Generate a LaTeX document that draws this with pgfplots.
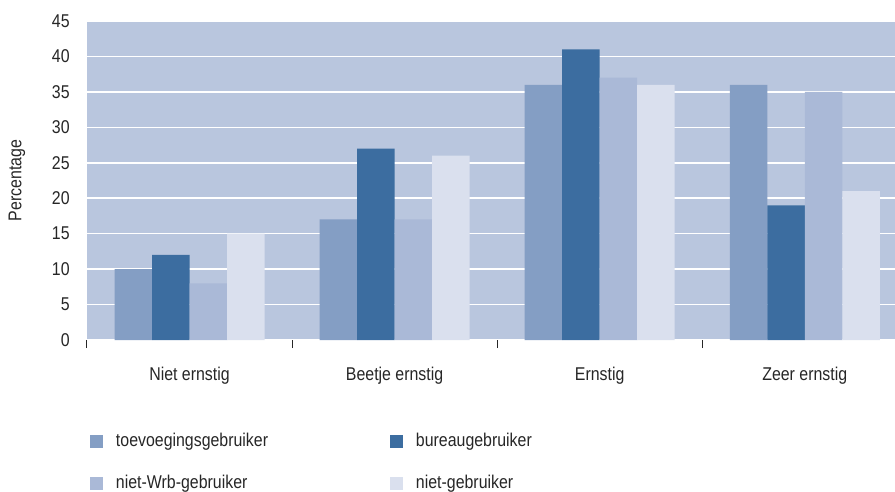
\documentclass[border=0pt]{standalone}
\usepackage{fontspec}
\setmainfont{Liberation Sans}[FakeStretch=0.86]
\usepackage{pgfplots}
\pgfplotsset{compat=1.18}

\definecolor{toev}{HTML}{849EC4}
\definecolor{bureau}{HTML}{3C6DA0}
\definecolor{nietwrb}{HTML}{AAB9D7}
\definecolor{nietgeb}{HTML}{DAE0EE}
\definecolor{plotbg}{HTML}{B9C6DE}
\definecolor{txt}{HTML}{262626}

\newcommand{\lblfont}{\fontsize{18.5bp}{22bp}\selectfont}

\begin{document}
\lblfont
\begin{tikzpicture}
\begin{axis}[
  name=ax,
  scale only axis,
  width=808bp, height=319bp,
  ybar=0pt, bar width=37.5bp,
  xmin=-0.5, xmax=3.44,
  ymin=0, ymax=45,
  enlargelimits=false,
  axis background/.style={fill=plotbg},
  axis line style={draw=none},
  ymajorgrids,
  grid style={white, line width=1.6bp},
  ytick={0,5,...,45},
  xtick={0,1,2,3},
  xticklabels={Niet ernstig, Beetje ernstig, Ernstig, Zeer ernstig},
  minor xtick={-0.5,0.5,1.5,2.5,3.5},
  tick pos=left,
  major tick length=0pt,
  minor tick length=8bp,
  tick align=outside,
  tick style={color=txt, line width=1bp},
  /pgf/number format/assume math mode=true,
  tick label style={font=\lblfont, text=txt},
  xticklabel style={yshift=-21bp},
  yticklabel style={xshift=-11bp},
  ylabel={Percentage},
  ylabel style={at={(axis description cs:0,0.5)}, anchor=center, yshift=70bp,
    font=\lblfont, text=txt},
  legend columns=2,
  legend style={at={(rel axis cs:0,0)}, anchor=north west,
    xshift=3bp, yshift=-93bp, draw=none, fill=none,
    inner sep=0pt, outer sep=0pt,
    nodes={inner sep=0pt, text=txt, font=\lblfont},
    row sep=26bp, column sep=0pt},
  legend cell align=left,
]
\addplot[fill=toev, draw=none,
  legend image code/.code={\fill[toev] (0bp,-6.5bp) rectangle (13bp,6.5bp);}]
  coordinates {(0,10) (1,17) (2,36) (3,36)};
\addplot[fill=bureau, draw=none,
  legend image code/.code={\fill[bureau] (0bp,-6.5bp) rectangle (13bp,6.5bp);}]
  coordinates {(0,12) (1,27) (2,41) (3,19)};
\addplot[fill=nietwrb, draw=none,
  legend image code/.code={\fill[nietwrb] (0bp,-6.5bp) rectangle (13bp,6.5bp);}]
  coordinates {(0,8) (1,17) (2,37) (3,35)};
\addplot[fill=nietgeb, draw=none,
  legend image code/.code={\fill[nietgeb] (0bp,-6.5bp) rectangle (13bp,6.5bp);}]
  coordinates {(0,15) (1,26) (2,36) (3,21)};
\legend{\hspace{13bp}\makebox[274bp][l]{toevoegingsgebruiker},
        \hspace{13bp}\makebox[274bp][l]{bureaugebruiker},
        \hspace{13bp}\makebox[274bp][l]{niet-Wrb-gebruiker},
        \hspace{13bp}\makebox[274bp][l]{niet-gebruiker}}
\end{axis}
\pgfresetboundingbox
\path[use as bounding box] (ax.south west) ++(-87bp,-152bp) rectangle ++(895bp,492bp);
\end{tikzpicture}
\end{document}
